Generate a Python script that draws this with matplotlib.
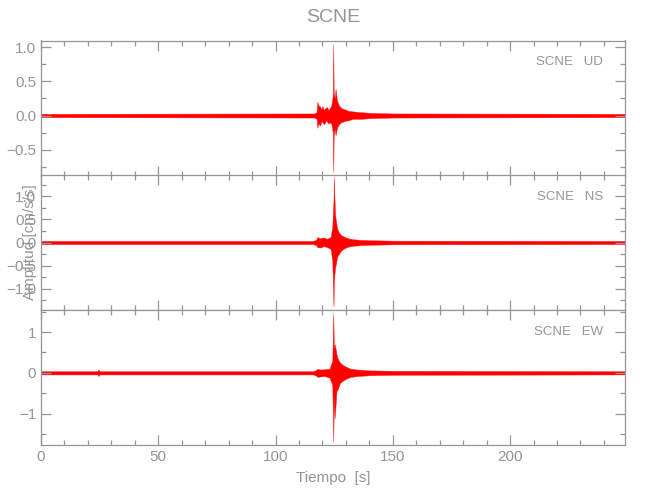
import matplotlib
matplotlib.use("Agg")
import matplotlib.pyplot as plt
from matplotlib.ticker import MultipleLocator, FixedLocator

# ---- data: amplitude envelopes (cm/s/s) ----
station = "SCNE"
components = ["UD", "NS", "EW"]

t_ud = [0, 116.5, 117.5, 117.8, 118.3, 119, 119.6, 120, 120.6, 121, 121.6, 122, 122.6, 123,
        123.8, 124.4, 124.6, 124.8, 125.2, 125.6, 126.2, 127, 128, 129.5, 131, 133, 136,
        140, 150, 249]
up_ud = [.025, .03, .05, .20, .15, .13, .09, .14, .08, .10, .12, .12, .08, .10,
         .15, .30, 1.05, .35, .25, .39, .22, .15, .11, .09, .07, .06, .05,
         .04, .03, .025]
lo_ud = [-.025, -.03, -.05, -.18, -.12, -.15, -.08, -.10, -.13, -.11, -.07, -.09, -.12, -.10,
         -.12, -.25, -.83, -.30, -.20, -.29, -.18, -.13, -.10, -.08, -.07, -.05, -.05,
         -.04, -.03, -.025]

t_ns = [0, 116, 117.3, 117.8, 119, 120.5, 122, 123.5, 124.2, 124.7, 124.9, 125.1, 125.4,
        125.8, 126.3, 127, 128, 129.5, 131, 133, 136, 140, 150, 249]
up_ns = [.035, .035, .06, .12, .09, .11, .08, .12, .35, .9, 1.42, 1.0, .6,
         .45, .3, .22, .16, .12, .09, .07, .06, .05, .04, .035]
lo_ns = [-.035, -.035, -.06, -.10, -.11, -.08, -.10, -.14, -.4, -1.39, -.9, -.7, -.55,
         -.45, -.3, -.25, -.17, -.12, -.09, -.07, -.06, -.05, -.04, -.035]

t_ew = [0, 24, 24.5, 25, 116, 117.3, 117.8, 119, 121, 123, 124.2, 124.6, 124.9, 125.2,
        125.6, 126, 126.5, 127.5, 128.5, 130, 132, 135, 140, 150, 249]
up_ew = [.04, .04, .08, .04, .04, .07, .10, .08, .09, .10, .3, 1.46, .6, .7,
         .6, .45, .35, .25, .2, .15, .1, .08, .06, .05, .04]
lo_ew = [-.04, -.04, -.08, -.04, -.04, -.07, -.10, -.09, -.08, -.12, -.3, -1.69, -.6, -1.12,
         -.8, -.45, -.4, -.25, -.2, -.15, -.1, -.08, -.06, -.05, -.04]

ylims = [(-0.88, 1.10), (-1.46, 1.46), (-1.77, 1.54)]
ymajor = [[1.0, 0.5, 0.0, -0.5], [1.0, 0.5, 0.0, -0.5, -1.0], [1, 0, -1]]
ylabels = [["1.0", "0.5", "0.0", "\u22120.5"],
           ["1.0", "0.5", "0.0", "\u22120.5", "\u22121.0"],
           ["1", "0", "\u22121"]]
yminor = [0.25, 0.25, 0.5]
xmax = 249
xticks = [0, 50, 100, 150, 200]

series = [(t_ud, up_ud, lo_ud), (t_ns, up_ns, lo_ns), (t_ew, up_ew, lo_ew)]

gray = "#959595"
plt.rcParams["font.family"] = ["Liberation Sans", "DejaVu Sans"]

fig = plt.figure(figsize=(6.5, 5.0), dpi=100)
left, width = 41 / 650, 584 / 650
tops = [40.5, 175, 310]
h = 135

for i, (comp, (t, up, lo)) in enumerate(zip(components, series)):
    ax = fig.add_axes([left, 1 - (tops[i] + h) / 500, width, h / 500])
    ax.fill_between(t, lo, up, color="#ff0000", lw=0.3, edgecolor="#ff2020")
    ax.set_xlim(0, xmax)
    ax.set_ylim(*ylims[i])
    ax.xaxis.set_major_locator(FixedLocator(xticks))
    ax.xaxis.set_minor_locator(MultipleLocator(10))
    ax.yaxis.set_major_locator(FixedLocator(ymajor[i]))
    ax.set_yticklabels(ylabels[i])
    ax.yaxis.set_minor_locator(MultipleLocator(yminor[i]))
    ax.tick_params(which="both", direction="in", top=True, right=True,
                   color=gray, labelcolor=gray, labelsize=11, width=0.9)
    ax.tick_params(which="major", length=7.2)
    ax.tick_params(which="minor", length=3.6)
    for s in ax.spines.values():
        s.set_color(gray)
        s.set_linewidth(0.9)
    if i < 2:
        ax.tick_params(labelbottom=False)
    else:
        ax.set_xticklabels([str(v) for v in xticks])
        ax.set_xlabel("Tiempo  [s]", color=gray, fontsize=11, labelpad=5)
    ax.text(0.962, 0.84, f"{station}   {comp}", transform=ax.transAxes,
            ha="right", va="center", color=gray, fontsize=9.5)

fig.text(333 / 650, 1 - 18 / 500, station, ha="center", va="center",
         color=gray, fontsize=14)
fig.text(30 / 650, 1 - 242 / 500, "Amplitud [cm/s/s]", rotation=90,
         ha="center", va="center", color=gray, fontsize=11)

fig.savefig("out.png", dpi=100, facecolor="white")
